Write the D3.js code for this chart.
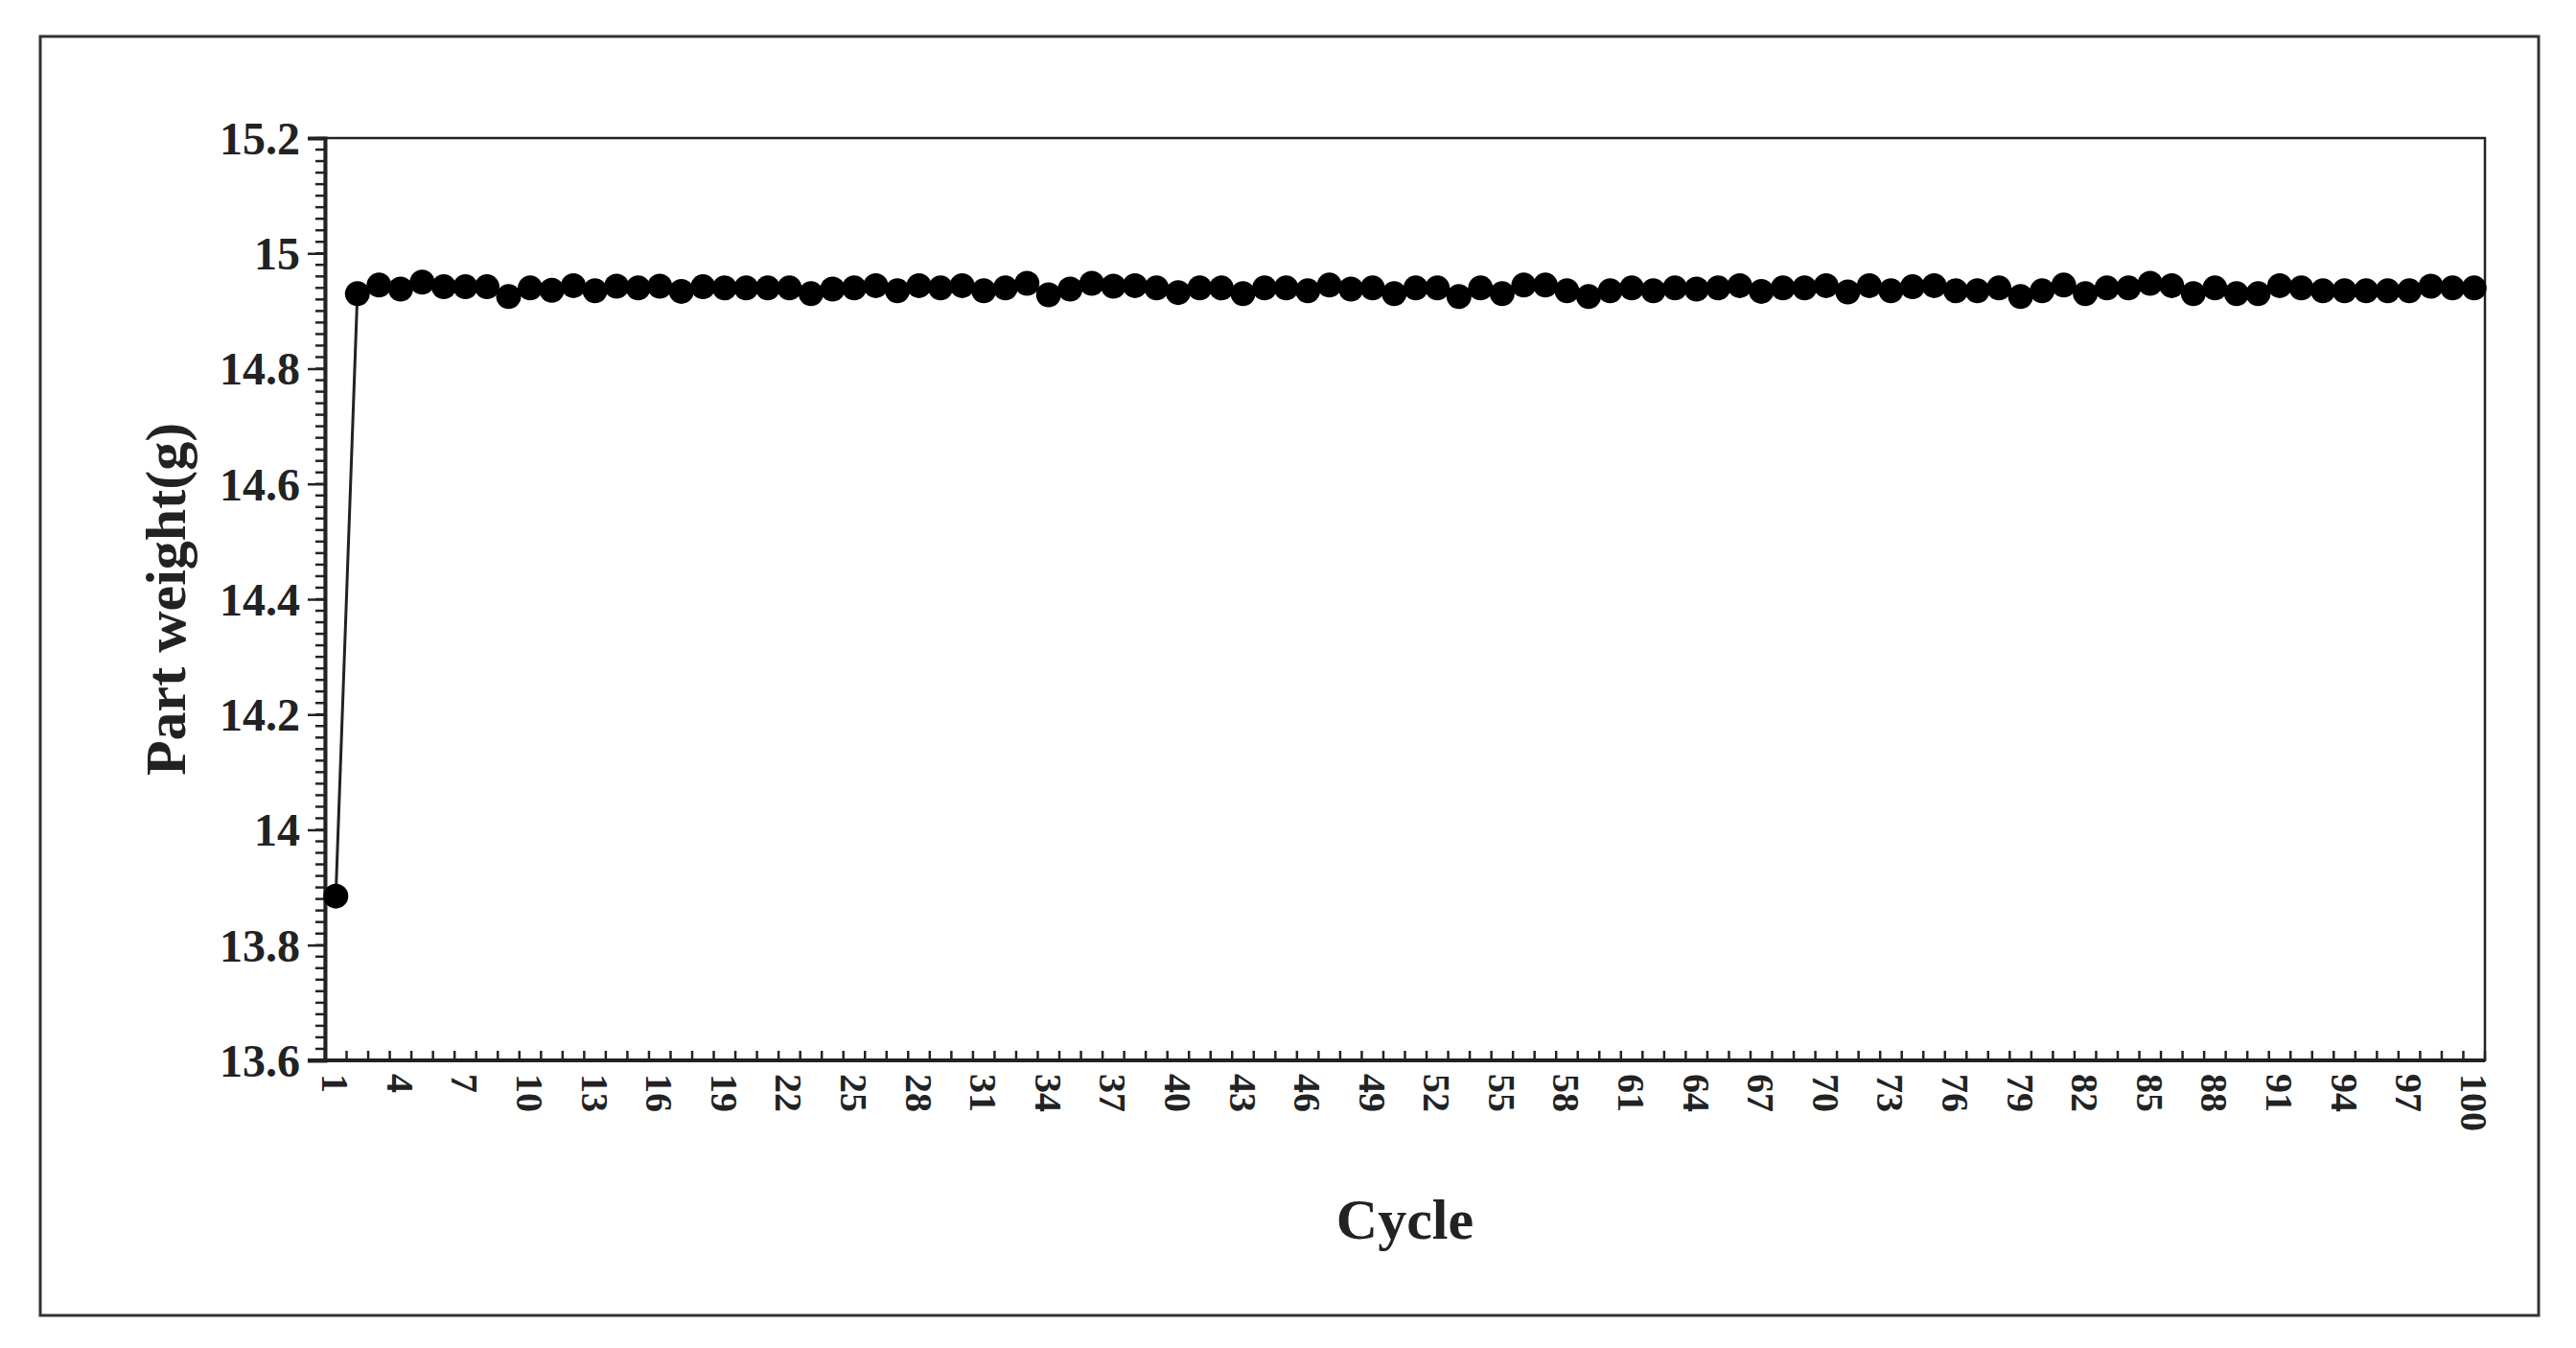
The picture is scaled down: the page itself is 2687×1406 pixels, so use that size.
<!doctype html>
<html lang="en">
<head>
<meta charset="utf-8">
<title>Part weight per cycle</title>
<style>
body { margin:0; background:#fff; font-family:"Liberation Serif", "Times New Roman", serif; }
</style>
</head>
<body>
<div id="chart"></div>
<script src="https://d3js.org/d3.v7.min.js"></script>
<script>
// part weight (g) for cycles 1..100
var cycles = d3.range(1, 101);
var weights = [
 13.885,14.930,14.945,14.938,14.950,14.942,14.942,14.942,14.925,14.940,
 14.936,14.944,14.935,14.943,14.940,14.943,14.934,14.942,14.940,14.940,
 14.940,14.940,14.930,14.938,14.940,14.944,14.935,14.944,14.940,14.944,
 14.935,14.940,14.948,14.928,14.938,14.948,14.943,14.944,14.940,14.932,
 14.940,14.940,14.930,14.940,14.940,14.935,14.945,14.938,14.940,14.930,
 14.940,14.940,14.925,14.940,14.930,14.945,14.945,14.935,14.925,14.935,
 14.940,14.935,14.940,14.938,14.940,14.944,14.934,14.940,14.940,14.944,
 14.933,14.944,14.935,14.942,14.944,14.935,14.935,14.940,14.925,14.935,
 14.945,14.930,14.940,14.940,14.948,14.944,14.930,14.940,14.930,14.930,
 14.944,14.940,14.935,14.935,14.935,14.935,14.935,14.943,14.940,14.940
];
var yTicks = [13.6, 13.8, 14, 14.2, 14.4, 14.6, 14.8, 15, 15.2];
var xTickLabels = cycles.filter(function(c) { return (c - 1) % 3 === 0; });

var W = 2687, H = 1406;
var pL = 339, pR = 2592, pT = 144, pB = 1106;

var svg = d3.select("#chart").append("svg").attr("width", W).attr("height", H);

// outer frame
svg.append("rect").attr("x", 42).attr("y", 38).attr("width", 2606).attr("height", 1334)
   .attr("fill", "none").attr("stroke", "#333").attr("stroke-width", 3);

var x = d3.scaleBand().domain(cycles).range([pL, pR]);
var y = d3.scaleLinear().domain([13.6, 15.2]).range([pB, pT]);

// plot box
svg.append("rect").attr("x", pL).attr("y", pT).attr("width", pR - pL).attr("height", pB - pT)
   .attr("fill", "none").attr("stroke", "#222").attr("stroke-width", 2.5);

// y minor ticks
svg.append("g").selectAll("line").data(d3.range(13.6, 15.2001, 0.02)).join("line")
   .attr("x1", pL - 10).attr("x2", pL).attr("y1", function(d) { return y(d); }).attr("y2", function(d) { return y(d); })
   .attr("stroke", "#222").attr("stroke-width", 2.5);

var yAxis = svg.append("g").attr("transform", "translate(" + pL + ",0)")
   .call(d3.axisLeft(y).tickValues(yTicks).tickSize(18).tickPadding(8).tickFormat(d3.format("~g")));
yAxis.select(".domain").attr("stroke-width", 4).attr("stroke", "#222");
yAxis.selectAll(".tick line").attr("stroke-width", 2.5).attr("stroke", "#222");
yAxis.selectAll("text").style("font-family", "Liberation Serif").style("font-weight", "bold")
   .style("font-size", "48px").attr("fill", "#222").attr("dy", "0.34em");

// x ticks at each category (inside)
svg.append("g").selectAll("line").data(cycles.concat([101])).join("line")
   .attr("x1", function(d) { return d === 101 ? pR : x(d); }).attr("x2", function(d) { return d === 101 ? pR : x(d); })
   .attr("y1", pB).attr("y2", pB - 10).attr("stroke", "#222").attr("stroke-width", 2.5);
svg.append("line").attr("x1", pL - 18).attr("x2", pR).attr("y1", pB).attr("y2", pB)
   .attr("stroke", "#222").attr("stroke-width", 4);

svg.append("g").selectAll("text").data(xTickLabels).join("text")
   .attr("transform", function(d) { return "translate(" + (x(d) + x.bandwidth() / 2 - 14) + "," + (pB + 14) + ") rotate(90)"; })
   .attr("text-anchor", "start")
   .style("font-family", "Liberation Serif").style("font-weight", "bold").style("font-size", "40px")
   .attr("fill", "#222").text(function(d) { return d; });

// series
var pts = cycles.map(function(c, i) { return [x(c) + x.bandwidth() / 2, y(weights[i])]; });
svg.append("path").attr("d", d3.line()(pts)).attr("fill", "none").attr("stroke", "#222").attr("stroke-width", 3);
svg.append("g").selectAll("circle").data(pts).join("circle")
   .attr("cx", function(d) { return d[0]; }).attr("cy", function(d) { return d[1]; })
   .attr("r", 13).attr("fill", "#000");

// axis titles
svg.append("text").attr("transform", "translate(172," + ((pT + pB) / 2) + ") rotate(-90)")
   .attr("text-anchor", "middle").attr("dy", "0.35em").style("font-weight", "bold").style("font-size", "60px")
   .attr("fill", "#222").text("Part weight(g)");
svg.append("text").attr("x", (pL + pR) / 2).attr("y", 1292)
   .attr("text-anchor", "middle").style("font-weight", "bold").style("font-size", "60px")
   .attr("fill", "#222").text("Cycle");
</script>
</body>
</html>
